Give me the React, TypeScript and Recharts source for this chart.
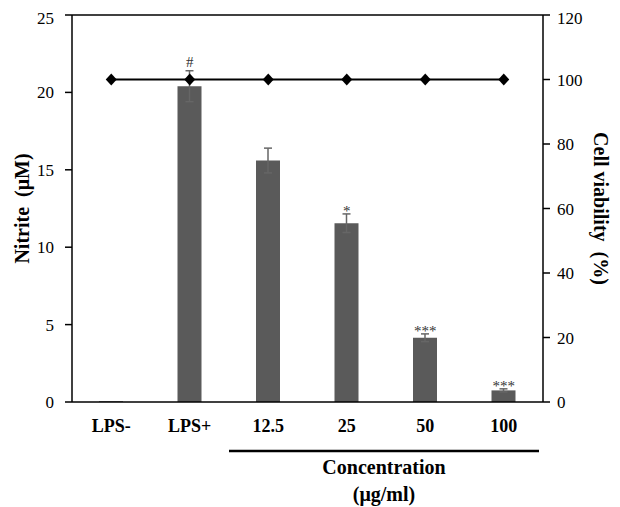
import React from 'react';
import {
  ComposedChart,
  Bar,
  Line,
  XAxis,
  YAxis,
  ErrorBar,
  LabelList,
  ReferenceLine,
} from 'recharts';

const groups = ['LPS-', 'LPS+', '12.5', '25', '50', '100'];
const nitrite = [0.05, 20.4, 15.6, 11.55, 4.15, 0.75];
const nitriteErr = [0, 1.0, 0.8, 0.6, 0.25, 0.1];
const viability = [100, 100, 100, 100, 100, 100];
const marks = ['', '#', '', '*', '***', '***'];

const leftTicks = [0, 5, 10, 15, 20, 25];
const rightTicks = [0, 20, 40, 60, 80, 100, 120];

const SERIF = 'Liberation Serif';
const W = 604;
const H = 499;

const data = groups.map((group, i) => ({
  group,
  nitrite: nitrite[i],
  err: nitriteErr[i],
  capTop: nitrite[i] + nitriteErr[i],
  viability: viability[i],
  mark: marks[i],
}));

const Diamond = (p: any) => {
  const { cx, cy, index } = p;
  if (cx == null || cy == null) return <g key={`d-${index}`} />;
  return (
    <polygon
      key={`d-${index}`}
      points={`${cx},${cy - 6} ${cx + 5.5},${cy} ${cx},${cy + 6} ${cx - 5.5},${cy}`}
      fill='#000'
    />
  );
};

const MarkLabel = (p: any) => {
  const { value } = p;
  if (!value) return null;
  const x = p.x ?? p.viewBox?.x;
  const y = p.y ?? p.viewBox?.y;
  const cx = x + (p.width || 0) / 2;
  // asterisks sit high in the em box, so drop them a bit
  const baseline = value === '#' ? y - 4 : y + 2;
  return (
    <text x={cx} y={baseline} textAnchor='middle' fontFamily={SERIF} fontSize={15} fill='#333'>
      {value}
    </text>
  );
};

const LeftTitle = (p: any) => {
  const vb = p.viewBox || { x: 0, y: 7, width: 64, height: 387 };
  const x = vb.x + 14;
  const y = vb.y + vb.height / 2;
  return (
    <text
      x={x}
      y={y}
      transform={`rotate(-90, ${x}, ${y})`}
      textAnchor='middle'
      dominantBaseline='central'
      fill='#000'
      fontFamily={SERIF}
      fontWeight='bold'
      fontSize={20}
      xmlSpace='preserve'
    >
      {'Nitrite  (μM)'}
    </text>
  );
};

const RightTitle = (p: any) => {
  const vb = p.viewBox || { x: 535, y: 7, width: 69, height: 387 };
  const x = vb.x + 58;
  const y = vb.y + vb.height / 2;
  return (
    <text
      x={x}
      y={y}
      transform={`rotate(90, ${x}, ${y})`}
      textAnchor='middle'
      dominantBaseline='central'
      fill='#000'
      fontFamily={SERIF}
      fontWeight='bold'
      fontSize={20}
      xmlSpace='preserve'
    >
      {'Cell viability  (%)'}
    </text>
  );
};

const ConcentrationLabel = (p: any) => {
  const vb = p.viewBox || { x: 64, y: 394, width: 471, height: 30 };
  const x1 = vb.x + (vb.width * 2) / groups.length;
  const x2 = vb.x + vb.width - 4;
  const mid = (x1 + x2) / 2;
  return (
    <g>
      <line x1={x1} x2={x2} y1={vb.y + 49} y2={vb.y + 49} stroke='#000' strokeWidth={2.5} />
      <text x={mid} y={vb.y + 72} textAnchor='middle' fill='#000' fontFamily={SERIF} fontWeight='bold' fontSize={20}>
        Concentration
      </text>
      <text x={mid} y={vb.y + 99} textAnchor='middle' fill='#000' fontFamily={SERIF} fontWeight='bold' fontSize={20}>
        (μg/ml)
      </text>
    </g>
  );
};

const axisLine = { stroke: '#000', strokeWidth: 1.5 };
const numTick = { fill: '#000', fontSize: 17, fontFamily: SERIF };

export default function App() {
  return (
    <div style={{ width: W, height: H }}>
      <ComposedChart
        width={W}
        height={H}
        data={data}
        margin={{ top: 7, right: 0, bottom: 75, left: 0 }}
      >
        <XAxis
          dataKey='group'
          axisLine={axisLine}
          tickLine={false}
          tickSize={0}
          tickMargin={17}
          interval={0}
          tick={{ fill: '#000', fontSize: 18, fontFamily: SERIF, fontWeight: 'bold' }}
          label={ConcentrationLabel}
        />
        <YAxis
          yAxisId='left'
          domain={[0, 25]}
          ticks={leftTicks}
          width={64}
          tickSize={7}
          tickMargin={11}
          axisLine={axisLine}
          tickLine={axisLine}
          tick={numTick}
          label={LeftTitle}
        />
        <YAxis
          yAxisId='right'
          orientation='right'
          domain={[0, 120]}
          ticks={rightTicks}
          width={69}
          tickSize={7}
          tickMargin={7}
          axisLine={axisLine}
          tickLine={axisLine}
          tick={numTick}
          label={RightTitle}
        />
        <ReferenceLine yAxisId='left' y={25} stroke='#000' strokeWidth={1.5} />
        <Bar
          yAxisId='left'
          dataKey='nitrite'
          fill='#5a5a5a'
          barSize={24}
          isAnimationActive={false}
        >
          <ErrorBar dataKey='err' width={4} stroke='#666' strokeWidth={1.5} />
        </Bar>
        <Line
          yAxisId='right'
          dataKey='viability'
          stroke='#000'
          strokeWidth={2}
          dot={Diamond}
          activeDot={false}
          isAnimationActive={false}
        />
        <Line
          yAxisId='left'
          dataKey='capTop'
          stroke='none'
          dot={false}
          activeDot={false}
          legendType='none'
          isAnimationActive={false}
        >
          <LabelList dataKey='mark' content={MarkLabel} />
        </Line>
      </ComposedChart>
    </div>
  );
}
